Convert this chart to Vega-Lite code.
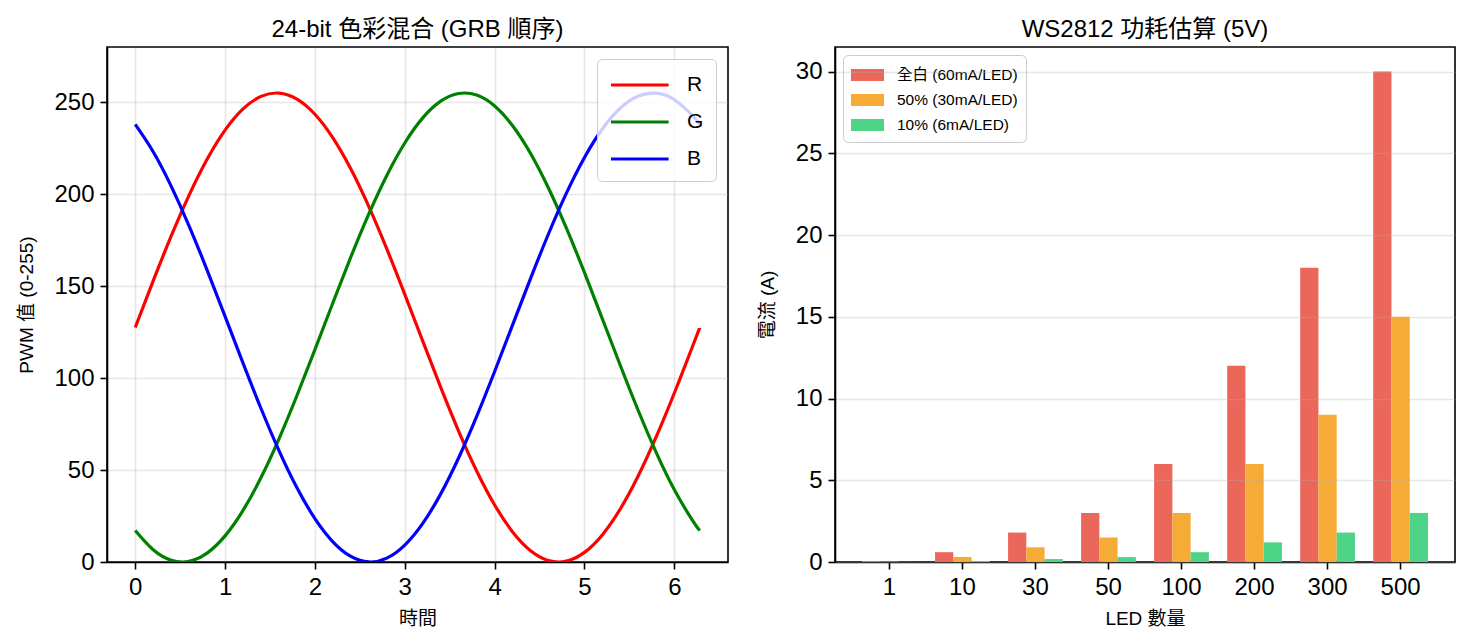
{
  "$schema": "https://vega.github.io/schema/vega-lite/v6.json",
  "background": "white",
  "padding": {"left": 17, "top": 17, "right": 10, "bottom": 5},
  "bounds": "flush",
  "spacing": 107,
  "resolve": {"scale": {"color": "independent"}, "legend": {"color": "independent"}},
  "config": {
    "font": "Liberation Sans, Noto Sans CJK TC, sans-serif",
    "view": {"stroke": "#000", "strokeWidth": 1.6},
    "axis": {
      "labelFont": "Liberation Sans, Noto Sans CJK TC, sans-serif",
      "titleFont": "Liberation Sans, Noto Sans CJK TC, sans-serif",
      "domainColor": "#000", "domainWidth": 1.6,
      "tickColor": "#000", "tickWidth": 1.6, "tickSize": 7,
      "labelFontSize": 24, "labelColor": "#000", "labelPadding": 6,
      "titleFontSize": 19, "titleFontWeight": "normal", "titleColor": "#000", "titlePadding": 8,
      "gridColor": "#b0b0b0", "gridOpacity": 0.3, "gridWidth": 1.6
    },
    "title": {"font": "Liberation Sans, Noto Sans CJK TC, sans-serif", "fontSize": 24, "fontWeight": "normal", "color": "#000", "offset": 5},
    "legend": {"labelFont": "Liberation Sans, Noto Sans CJK TC, sans-serif", "labelColor": "#000"}
  },
  "hconcat": [
    {
      "width": 621,
      "height": 515,
      "title": "24-bit 色彩混合 (GRB 順序)",
      "data": {
        "values": [
          {"t": 0, "R": 127.5, "G": 17.08, "B": 237.92},
          {"t": 0.2, "R": 152.83, "G": 6.62, "B": 223.05},
          {"t": 0.4, "R": 177.15, "G": 0.97, "B": 204.37},
          {"t": 0.6, "R": 199.49, "G": 0.36, "B": 182.64},
          {"t": 0.8, "R": 218.96, "G": 4.84, "B": 158.7},
          {"t": 1.0, "R": 234.79, "G": 14.2, "B": 133.52},
          {"t": 1.2, "R": 246.33, "G": 28.07, "B": 108.09},
          {"t": 1.4, "R": 253.14, "G": 45.91, "B": 83.45},
          {"t": 1.6, "R": 254.95, "G": 67.0, "B": 60.56},
          {"t": 1.8, "R": 251.67, "G": 90.51, "B": 40.33},
          {"t": 2.0, "R": 243.44, "G": 115.48, "B": 23.58},
          {"t": 2.2, "R": 230.58, "G": 140.94, "B": 10.98},
          {"t": 2.4, "R": 213.62, "G": 165.86, "B": 3.02},
          {"t": 2.6, "R": 193.23, "G": 189.26, "B": 0.02},
          {"t": 2.8, "R": 170.21, "G": 210.18, "B": 2.1},
          {"t": 3.0, "R": 145.49, "G": 227.81, "B": 9.19},
          {"t": 3.2, "R": 120.06, "G": 241.45, "B": 21.0},
          {"t": 3.4, "R": 94.92, "G": 250.54, "B": 37.04},
          {"t": 3.6, "R": 71.08, "G": 254.73, "B": 56.69},
          {"t": 3.8, "R": 49.49, "G": 253.85, "B": 79.17},
          {"t": 4.0, "R": 31.01, "G": 247.92, "B": 103.56},
          {"t": 4.2, "R": 16.37, "G": 237.19, "B": 128.93},
          {"t": 4.4, "R": 6.17, "G": 222.1, "B": 154.22},
          {"t": 4.6, "R": 0.8, "G": 203.23, "B": 178.47},
          {"t": 4.8, "R": 0.49, "G": 181.34, "B": 200.66},
          {"t": 5.0, "R": 5.24, "G": 157.31, "B": 219.95},
          {"t": 5.2, "R": 14.86, "G": 132.09, "B": 235.55},
          {"t": 5.4, "R": 28.97, "G": 106.68, "B": 246.84},
          {"t": 5.6, "R": 47.01, "G": 82.1, "B": 253.38},
          {"t": 5.8, "R": 68.26, "G": 59.34, "B": 254.9},
          {"t": 6.0, "R": 91.87, "G": 39.29, "B": 251.33},
          {"t": 6.2, "R": 116.91, "G": 22.76, "B": 242.76},
          {"t": 6.2832, "R": 127.5, "G": 17.08, "B": 237.92}
        ]
      },
      "transform": [{"fold": ["R", "G", "B"], "as": ["channel", "value"]}],
      "mark": {"type": "line", "strokeWidth": 3.2, "interpolate": "natural", "clip": true},
      "encoding": {
        "x": {
          "field": "t", "type": "quantitative",
          "scale": {"domain": [-0.314, 6.597], "nice": false, "zero": false},
          "axis": {"title": "時間", "values": [0, 1, 2, 3, 4, 5, 6], "grid": true, "titlePadding": 10}
        },
        "y": {
          "field": "value", "type": "quantitative",
          "scale": {"domain": [0, 280], "nice": false},
          "axis": {"title": "PWM 值 (0-255)", "values": [0, 50, 100, 150, 200, 250], "grid": true, "titlePadding": 17}
        },
        "color": {
          "field": "channel", "type": "nominal", "sort": ["R", "G", "B"],
          "scale": {"domain": ["R", "G", "B"], "range": ["#ff0000", "#008000", "#0000ff"]},
          "legend": {
            "title": null, "orient": "top-right", "offset": 12,
            "fillColor": "rgba(255,255,255,0.8)", "strokeColor": "#cccccc", "cornerRadius": 5, "padding": 12,
            "symbolType": "M-1,0H3.8", "symbolSize": 576, "symbolStrokeWidth": 3.2,
            "labelFontSize": 21, "labelOffset": 50, "rowPadding": 13
          }
        }
      }
    },
    {
      "width": 620,
      "height": 515,
      "title": "WS2812 功耗估算 (5V)",
      "data": {
        "values": [
          {"LED": "1", "模式": "全白 (60mA/LED)", "電流": 0.06},
          {"LED": "1", "模式": "50% (30mA/LED)", "電流": 0.03},
          {"LED": "1", "模式": "10% (6mA/LED)", "電流": 0.006},
          {"LED": "10", "模式": "全白 (60mA/LED)", "電流": 0.6},
          {"LED": "10", "模式": "50% (30mA/LED)", "電流": 0.3},
          {"LED": "10", "模式": "10% (6mA/LED)", "電流": 0.06},
          {"LED": "30", "模式": "全白 (60mA/LED)", "電流": 1.8},
          {"LED": "30", "模式": "50% (30mA/LED)", "電流": 0.9},
          {"LED": "30", "模式": "10% (6mA/LED)", "電流": 0.18},
          {"LED": "50", "模式": "全白 (60mA/LED)", "電流": 3},
          {"LED": "50", "模式": "50% (30mA/LED)", "電流": 1.5},
          {"LED": "50", "模式": "10% (6mA/LED)", "電流": 0.3},
          {"LED": "100", "模式": "全白 (60mA/LED)", "電流": 6},
          {"LED": "100", "模式": "50% (30mA/LED)", "電流": 3},
          {"LED": "100", "模式": "10% (6mA/LED)", "電流": 0.6},
          {"LED": "200", "模式": "全白 (60mA/LED)", "電流": 12},
          {"LED": "200", "模式": "50% (30mA/LED)", "電流": 6},
          {"LED": "200", "模式": "10% (6mA/LED)", "電流": 1.2},
          {"LED": "300", "模式": "全白 (60mA/LED)", "電流": 18},
          {"LED": "300", "模式": "50% (30mA/LED)", "電流": 9},
          {"LED": "300", "模式": "10% (6mA/LED)", "電流": 1.8},
          {"LED": "500", "模式": "全白 (60mA/LED)", "電流": 30},
          {"LED": "500", "模式": "50% (30mA/LED)", "電流": 15},
          {"LED": "500", "模式": "10% (6mA/LED)", "電流": 3}
        ]
      },
      "mark": {"type": "bar"},
      "encoding": {
        "x": {
          "field": "LED", "type": "nominal",
          "sort": ["1", "10", "30", "50", "100", "200", "300", "500"],
          "scale": {"paddingInner": 0.25, "paddingOuter": 0.37},
          "axis": {"title": "LED 數量", "labelAngle": 0, "grid": false, "titlePadding": 10}
        },
        "xOffset": {
          "field": "模式", "type": "nominal",
          "sort": ["全白 (60mA/LED)", "50% (30mA/LED)", "10% (6mA/LED)"],
          "scale": {"paddingInner": 0, "paddingOuter": 0}
        },
        "y": {
          "field": "電流", "type": "quantitative",
          "scale": {"domain": [0, 31.5], "nice": false},
          "axis": {"title": "電流 (A)", "values": [0, 5, 10, 15, 20, 25, 30], "grid": true, "zindex": 1, "titlePadding": 18}
        },
        "color": {
          "field": "模式", "type": "nominal",
          "sort": ["全白 (60mA/LED)", "50% (30mA/LED)", "10% (6mA/LED)"],
          "scale": {"domain": ["全白 (60mA/LED)", "50% (30mA/LED)", "10% (6mA/LED)"], "range": ["#eb675a", "#f5ab36", "#4dd486"]},
          "legend": {
            "title": null, "orient": "top-left", "offset": 8,
            "fillColor": "rgba(255,255,255,0.8)", "strokeColor": "#cccccc", "cornerRadius": 5, "padding": 8,
            "symbolType": "M-1,-0.5H1.75V0.5H-1Z", "symbolSize": 576, "symbolStrokeWidth": 0,
            "labelFontSize": 15.5, "labelOffset": 22, "rowPadding": 4
          }
        }
      }
    }
  ]
}
